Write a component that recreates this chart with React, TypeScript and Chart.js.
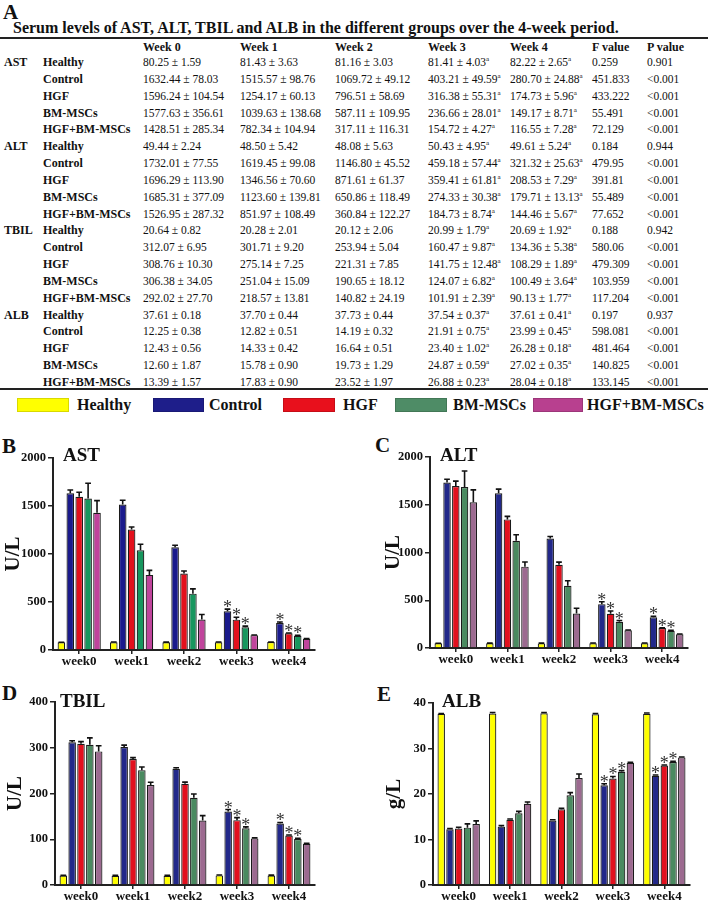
import React, { useEffect, useRef } from "react";
import { Chart, registerables } from "chart.js";

Chart.register(...registerables);

// ---------------- data ----------------
const groups = ["Healthy", "Control", "HGF", "BM-MSCs", "HGF+BM-MSCs"];
const weekLabels = ["week0", "week1", "week2", "week3", "week4"];
const tableHeaders = ["Week 0", "Week 1", "Week 2", "Week 3", "Week 4", "F value", "P value"];
const parameters = ["AST", "ALT", "TBIL", "ALB"];
const sampleSize = 5; // animals per group, error bars in charts are SEM

const astMean = [
  [80.25, 81.43, 81.16, 81.41, 82.22],
  [1632.44, 1515.57, 1069.72, 403.21, 280.7],
  [1596.24, 1254.17, 796.51, 316.38, 174.73],
  [1577.63, 1039.63, 587.11, 236.66, 149.17],
  [1428.51, 782.34, 317.11, 154.72, 116.55],
];
const astSd = [
  [1.59, 3.63, 3.03, 4.03, 2.65],
  [78.03, 98.76, 49.12, 49.59, 24.88],
  [104.54, 60.13, 58.69, 55.31, 5.96],
  [356.61, 138.68, 109.95, 28.01, 8.71],
  [285.34, 104.94, 116.31, 4.27, 7.28],
];
const astF = ["0.259", "451.833", "433.222", "55.491", "72.129"];
const astP = ["0.901", "<0.001", "<0.001", "<0.001", "<0.001"];

const altMean = [
  [49.44, 48.5, 48.08, 50.43, 49.61],
  [1732.01, 1619.45, 1146.8, 459.18, 321.32],
  [1696.29, 1346.56, 871.61, 359.41, 208.53],
  [1685.31, 1123.6, 650.86, 274.33, 179.71],
  [1526.95, 851.97, 360.84, 184.73, 144.46],
];
const altSd = [
  [2.24, 5.42, 5.63, 4.95, 5.24],
  [77.55, 99.08, 45.52, 57.44, 25.63],
  [113.9, 70.6, 61.37, 61.81, 7.29],
  [377.09, 139.81, 118.49, 30.38, 13.13],
  [287.32, 108.49, 122.27, 8.74, 5.67],
];
const altF = ["0.184", "479.95", "391.81", "55.489", "77.652"];
const altP = ["0.944", "<0.001", "<0.001", "<0.001", "<0.001"];

const tbilMean = [
  [20.64, 20.28, 20.12, 20.99, 20.69],
  [312.07, 301.71, 253.94, 160.47, 134.36],
  [308.76, 275.14, 221.31, 141.75, 108.29],
  [306.38, 251.04, 190.65, 124.07, 100.49],
  [292.02, 218.57, 140.82, 101.91, 90.13],
];
const tbilSd = [
  [0.82, 2.01, 2.06, 1.79, 1.92],
  [6.95, 9.2, 5.04, 9.87, 5.38],
  [10.3, 7.25, 7.85, 12.48, 1.89],
  [34.05, 15.09, 18.12, 6.82, 3.64],
  [27.7, 13.81, 24.19, 2.39, 1.77],
];
const tbilF = ["0.188", "580.06", "479.309", "103.959", "117.204"];
const tbilP = ["0.942", "<0.001", "<0.001", "<0.001", "<0.001"];

const albMean = [
  [37.61, 37.7, 37.73, 37.54, 37.61],
  [12.25, 12.82, 14.19, 21.91, 23.99],
  [12.43, 14.33, 16.64, 23.4, 26.28],
  [12.6, 15.78, 19.73, 24.87, 27.02],
  [13.39, 17.83, 23.52, 26.88, 28.04],
];
const albSd = [
  [0.18, 0.44, 0.44, 0.37, 0.41],
  [0.38, 0.51, 0.32, 0.75, 0.45],
  [0.56, 0.42, 0.51, 1.02, 0.18],
  [1.87, 0.9, 1.29, 0.59, 0.35],
  [1.57, 0.9, 1.97, 0.23, 0.18],
];
const albF = ["0.197", "598.081", "481.464", "140.825", "133.145"];
const albP = ["0.937", "<0.001", "<0.001", "<0.001", "<0.001"];

const markedWeeks = [3, 4]; // superscript "a" in table, asterisk in charts
const starredGroups = [1, 2, 3];

const yMaxB = 2000, yStepB = 500;
const yMaxC = 2000, yStepC = 500;
const yMaxD = 400, yStepD = 100;
const yMaxE = 40, yStepE = 10;

// ---------------- styles ----------------
const SERIF = '"Liberation Serif", "Times New Roman", serif';
const legendColors = ["#ffff00", "#1e1e8a", "#e8101c", "#4e8c66", "#b8408f"];
const paletteB = ["#ffff00", "#1a1a8c", "#e3101c", "#17965e", "#c0449c"];
const paletteOther = ["#ffff00", "#22288a", "#e2101e", "#4a8a60", "#9c6a90"];

type Geo = { canvasLeft: number; left: number; top: number; right: number; bottom: number; unitX: number };

function Text(props: { x: number; y: number; size: number; bold?: boolean; h?: number; children: React.ReactNode; style?: React.CSSProperties }) {
  const h = props.h ?? 20;
  return (
    <div
      style={{
        position: "absolute",
        left: props.x,
        top: props.y - h / 2,
        height: h,
        lineHeight: `${h}px`,
        fontSize: props.size,
        fontWeight: props.bold ? "bold" : "normal",
        whiteSpace: "nowrap",
        color: "#111",
        ...props.style,
      }}
    >
      {props.children}
    </div>
  );
}

function BarPanel(props: {
  mean: number[][];
  sd: number[][];
  yMax: number;
  step: number;
  unit: string;
  palette: string[];
  geo: Geo;
}) {
  const ref = useRef<HTMLCanvasElement | null>(null);
  const padTop = 26;
  const padRight = 8;
  const xH = 22;
  const g = props.geo;
  const canvasTop = g.top - padTop;
  const width = g.right - g.canvasLeft + padRight;
  const height = g.bottom - canvasTop + xH;

  useEffect(() => {
    if (!ref.current) return;
    const errors = props.sd.map((row) => row.map((s) => s / Math.sqrt(sampleSize)));
    const stars = props.mean.map((row, gi) =>
      row.map((_, wi) => starredGroups.includes(gi) && markedWeeks.includes(wi))
    );
    const errPlugin = {
      id: "errorBars",
      afterDatasetsDraw(chart: any) {
        const ctx = chart.ctx;
        const ys = chart.scales.y;
        ctx.save();
        chart.data.datasets.forEach((ds: any, di: number) => {
          const meta = chart.getDatasetMeta(di);
          meta.data.forEach((bar: any, i: number) => {
            const v = ds.data[i] as number;
            const top = ys.getPixelForValue(v + errors[di][i]);
            const base = ys.getPixelForValue(v);
            const half = bar.width * 0.38;
            ctx.strokeStyle = "#111";
            ctx.lineWidth = 1.6;
            ctx.beginPath();
            ctx.moveTo(bar.x, base);
            ctx.lineTo(bar.x, top);
            ctx.moveTo(bar.x - half, top);
            ctx.lineTo(bar.x + half, top);
            ctx.stroke();
            if (stars[di][i]) {
              ctx.fillStyle = "#333";
              ctx.font = `18px ${SERIF}`;
              ctx.textAlign = "center";
              ctx.textBaseline = "alphabetic";
              ctx.fillText("*", bar.x, top + 4);
            }
          });
        });
        ctx.restore();
      },
    };
    const tickFont = { family: SERIF, size: 12.5, weight: "bold" as const };
    const chart = new Chart(ref.current, {
      type: "bar",
      data: {
        labels: weekLabels,
        datasets: groups.map((name, gi) => ({
          label: name,
          data: props.mean[gi],
          backgroundColor: props.palette[gi],
          borderColor: "#1a1a1a",
          borderWidth: 1.2,
          categoryPercentage: 0.85,
          barPercentage: 0.85,
        })),
      },
      options: {
        responsive: false,
        animation: false,
        layout: { padding: { top: padTop, right: padRight, left: 0, bottom: 0 } },
        plugins: { legend: { display: false }, tooltip: { enabled: false }, title: { display: false } },
        scales: {
          x: {
            grid: { display: true, drawOnChartArea: false, drawTicks: true, tickLength: 4, offset: false, color: "#222", lineWidth: 1.5 },
            border: { display: true, color: "#222", width: 2 },
            ticks: { color: "#111", font: { family: SERIF, size: 13, weight: "bold" }, padding: 0, maxRotation: 0 },
            afterFit: (s: any) => {
              s.height = xH;
            },
          },
          y: {
            min: 0,
            max: props.yMax,
            ticks: {
              stepSize: props.step,
              color: "#111",
              font: tickFont,
              padding: 2,
              callback: (v: any) => String(v),
            },
            grid: { display: true, drawOnChartArea: false, drawTicks: true, tickLength: 5, color: "#222", lineWidth: 1.5 },
            border: { display: true, color: "#222", width: 2 },
            title: {
              display: true,
              text: props.unit,
              color: "#111",
              font: { family: SERIF, size: 21, weight: "bold" },
              padding: { top: g.unitX - g.canvasLeft - 12.6, bottom: 0 },
            },
            afterFit: (s: any) => {
              s.width = g.left - g.canvasLeft;
            },
          },
        },
      },
      plugins: [errPlugin],
    } as any);
    return () => chart.destroy();
  }, []);

  return (
    <canvas
      ref={ref}
      width={width}
      height={height}
      style={{ position: "absolute", left: g.canvasLeft, top: canvasTop, width, height }}
    />
  );
}

const tableData = [
  { name: parameters[0], mean: astMean, sd: astSd, f: astF, p: astP },
  { name: parameters[1], mean: altMean, sd: altSd, f: altF, p: altP },
  { name: parameters[2], mean: tbilMean, sd: tbilSd, f: tbilF, p: tbilP },
  { name: parameters[3], mean: albMean, sd: albSd, f: albF, p: albP },
];

export default function App() {
  const colX = [143, 240, 335, 428, 510, 592, 647];
  const rowY = (i: number) => 62 + i * 16.84;
  const legendPos = [
    { box: 17, w: 52, text: 77 },
    { box: 153, w: 51, text: 209 },
    { box: 283, w: 52, text: 343 },
    { box: 395, w: 52, text: 453 },
    { box: 533, w: 50, text: 587 },
  ];
  const rows: React.ReactNode[] = [];
  tableData.forEach((param, pi) => {
    groups.forEach((grp, gi) => {
      const r = pi * 5 + gi;
      const y = rowY(r);
      if (gi === 0) {
        rows.push(
          <Text key={`p${r}`} x={4} y={y} size={12} bold>
            {param.name}
          </Text>
        );
      }
      rows.push(
        <Text key={`g${r}`} x={43} y={y} size={12} bold>
          {grp}
        </Text>
      );
      param.mean[gi].forEach((m, wi) => {
        rows.push(
          <Text key={`v${r}-${wi}`} x={colX[wi]} y={y} size={11.5}>
            {`${m.toFixed(2)} ± ${param.sd[gi][wi].toFixed(2)}`}
            {markedWeeks.includes(wi) ? (
              <sup style={{ fontSize: 7, verticalAlign: "top", lineHeight: "14px" }}>a</sup>
            ) : null}
          </Text>
        );
      });
      rows.push(
        <Text key={`f${r}`} x={colX[5]} y={y} size={11.5}>
          {param.f[gi]}
        </Text>
      );
      rows.push(
        <Text key={`pv${r}`} x={colX[6]} y={y} size={11.5}>
          {param.p[gi]}
        </Text>
      );
    });
  });

  return (
    <div
      style={{
        position: "absolute",
        left: 0,
        top: 0,
        width: 708,
        height: 900,
        overflow: "hidden",
        background: "#fff",
        fontFamily: SERIF,
        color: "#111",
      }}
    >
      <Text x={3} y={12} size={21} bold h={24}>A</Text>
      <Text x={13} y={28} size={16} bold>
        Serum levels of AST, ALT, TBIL and ALB in the different groups over the 4-week period.
      </Text>
      <div style={{ position: "absolute", left: 0, top: 37, width: 708, height: 2, background: "#222" }} />
      {tableHeaders.map((h, i) => (
        <Text key={h} x={colX[i]} y={47} size={12} bold>
          {h}
        </Text>
      ))}
      {rows}
      <div style={{ position: "absolute", left: 0, top: 388, width: 708, height: 2, background: "#222" }} />

      {groups.map((grp, i) => (
        <React.Fragment key={grp}>
          <div
            style={{
              position: "absolute",
              left: legendPos[i].box,
              top: 398,
              width: legendPos[i].w,
              height: 14,
              background: legendColors[i],
              boxSizing: "border-box",
              border: "1px solid rgba(0,0,0,0.15)",
            }}
          />
          <Text x={legendPos[i].text} y={405} size={16} bold>
            {grp}
          </Text>
        </React.Fragment>
      ))}

      <Text x={2} y={446} size={21} bold h={24}>B</Text>
      <Text x={375} y={445} size={21} bold h={24}>C</Text>
      <Text x={2} y={693} size={21} bold h={24}>D</Text>
      <Text x={377} y={694} size={21} bold h={24}>E</Text>

      <BarPanel mean={astMean} sd={astSd} yMax={yMaxB} step={yStepB} unit="U/L" palette={paletteB}
        geo={{ canvasLeft: 0, left: 53, top: 458, right: 315, bottom: 650, unitX: 14 }} />
      <BarPanel mean={altMean} sd={altSd} yMax={yMaxC} step={yStepC} unit="U/L" palette={paletteOther}
        geo={{ canvasLeft: 354, left: 430, top: 457, right: 688, bottom: 648, unitX: 394 }} />
      <BarPanel mean={tbilMean} sd={tbilSd} yMax={yMaxD} step={yStepD} unit="U/L" palette={paletteOther}
        geo={{ canvasLeft: 0, left: 55, top: 702, right: 315, bottom: 885, unitX: 16 }} />
      <BarPanel mean={albMean} sd={albSd} yMax={yMaxE} step={yStepE} unit="g/L" palette={paletteOther}
        geo={{ canvasLeft: 354, left: 433, top: 703, right: 690, bottom: 885, unitX: 395 }} />

      <Text x={63} y={455} size={19} bold h={24}>AST</Text>
      <Text x={440} y={455} size={19} bold h={24}>ALT</Text>
      <Text x={60} y={701} size={19} bold h={24}>TBIL</Text>
      <Text x={442} y={701} size={19} bold h={24}>ALB</Text>
    </div>
  );
}
